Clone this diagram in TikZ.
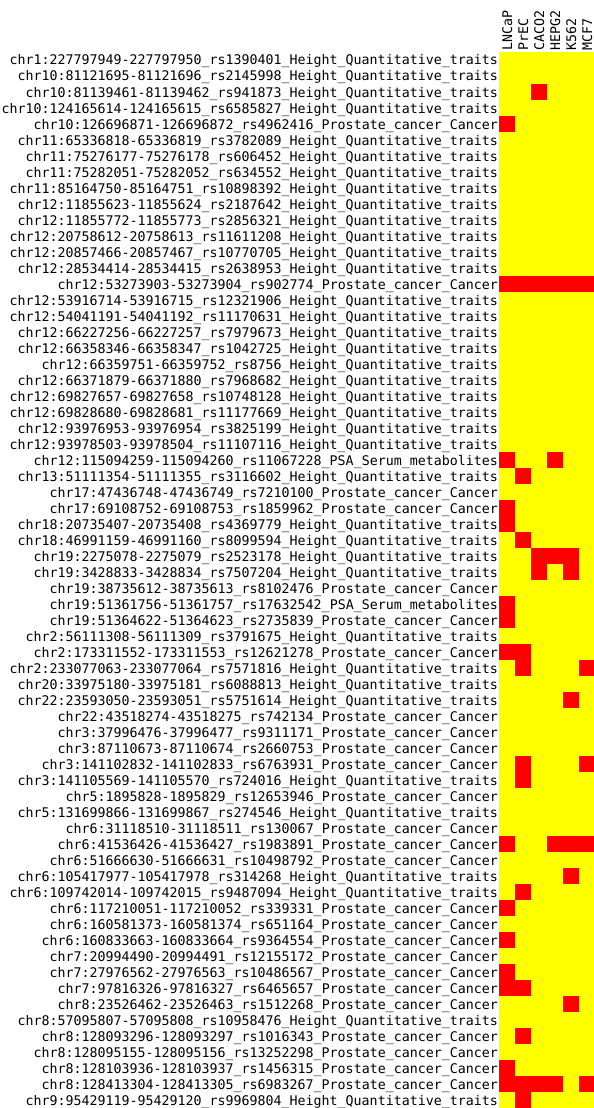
\documentclass[tikz,border=0pt]{standalone}
\usepackage{fontspec}
\setmonofont{DejaVu Sans Mono}
\definecolor{heatyellow}{RGB}{255,255,0}
\definecolor{heatred}{RGB}{255,0,0}
\begin{document}
\begin{tikzpicture}[x=1pt,y=-1pt,
  rowlab/.style={anchor=base east,inner sep=0pt,font=\ttfamily\fontsize{13.29}{16}\selectfont},
  collab/.style={anchor=base west,rotate=90,inner sep=0pt,font=\ttfamily\fontsize{13.29}{16}\selectfont},
  hitcell/.style={fill=heatred}]
\useasboundingbox (0,0) rectangle (594,1108);
\clip (0,0) rectangle (594,1108);
\fill[white] (0,0) rectangle (594,1108);
% heatmap background
\fill[heatyellow] (499,52) rectangle (595,1108);
% red cells: row/column
\foreach \r/\c in {3/3,5/1,15/1,15/2,15/3,15/4,15/5,15/6,26/1,26/4,27/2,29/1,30/1,31/2,
  32/3,32/4,32/5,33/3,33/5,35/1,36/1,38/1,38/2,39/2,39/6,41/5,45/2,45/6,46/2,
  50/1,50/4,50/5,50/6,52/5,53/2,54/1,56/1,58/1,59/1,59/2,60/5,62/2,64/1,
  65/1,65/2,65/3,65/4,65/6,66/2}
  \fill[hitcell] ({499+16*(\c-1)},{52+16*(\r-1)}) rectangle +(16,16);
% column labels
\foreach \lab [count=\c] in {LNCaP,PrEC,CACO2,HEPG2,K562,MCF7}
  \node[collab] (col\c) at ({499+16*(\c-1)+13},51) {\lab};
% row labels
\foreach \lab [count=\i] in {
chr1:227797949-227797950\_rs1390401\_Height\_Quantitative\_traits,
chr10:81121695-81121696\_rs2145998\_Height\_Quantitative\_traits,
chr10:81139461-81139462\_rs941873\_Height\_Quantitative\_traits,
chr10:124165614-124165615\_rs6585827\_Height\_Quantitative\_traits,
chr10:126696871-126696872\_rs4962416\_Prostate\_cancer\_Cancer,
chr11:65336818-65336819\_rs3782089\_Height\_Quantitative\_traits,
chr11:75276177-75276178\_rs606452\_Height\_Quantitative\_traits,
chr11:75282051-75282052\_rs634552\_Height\_Quantitative\_traits,
chr11:85164750-85164751\_rs10898392\_Height\_Quantitative\_traits,
chr12:11855623-11855624\_rs2187642\_Height\_Quantitative\_traits,
chr12:11855772-11855773\_rs2856321\_Height\_Quantitative\_traits,
chr12:20758612-20758613\_rs11611208\_Height\_Quantitative\_traits,
chr12:20857466-20857467\_rs10770705\_Height\_Quantitative\_traits,
chr12:28534414-28534415\_rs2638953\_Height\_Quantitative\_traits,
chr12:53273903-53273904\_rs902774\_Prostate\_cancer\_Cancer,
chr12:53916714-53916715\_rs12321906\_Height\_Quantitative\_traits,
chr12:54041191-54041192\_rs11170631\_Height\_Quantitative\_traits,
chr12:66227256-66227257\_rs7979673\_Height\_Quantitative\_traits,
chr12:66358346-66358347\_rs1042725\_Height\_Quantitative\_traits,
chr12:66359751-66359752\_rs8756\_Height\_Quantitative\_traits,
chr12:66371879-66371880\_rs7968682\_Height\_Quantitative\_traits,
chr12:69827657-69827658\_rs10748128\_Height\_Quantitative\_traits,
chr12:69828680-69828681\_rs11177669\_Height\_Quantitative\_traits,
chr12:93976953-93976954\_rs3825199\_Height\_Quantitative\_traits,
chr12:93978503-93978504\_rs11107116\_Height\_Quantitative\_traits,
chr12:115094259-115094260\_rs11067228\_PSA\_Serum\_metabolites,
chr13:51111354-51111355\_rs3116602\_Height\_Quantitative\_traits,
chr17:47436748-47436749\_rs7210100\_Prostate\_cancer\_Cancer,
chr17:69108752-69108753\_rs1859962\_Prostate\_cancer\_Cancer,
chr18:20735407-20735408\_rs4369779\_Height\_Quantitative\_traits,
chr18:46991159-46991160\_rs8099594\_Height\_Quantitative\_traits,
chr19:2275078-2275079\_rs2523178\_Height\_Quantitative\_traits,
chr19:3428833-3428834\_rs7507204\_Height\_Quantitative\_traits,
chr19:38735612-38735613\_rs8102476\_Prostate\_cancer\_Cancer,
chr19:51361756-51361757\_rs17632542\_PSA\_Serum\_metabolites,
chr19:51364622-51364623\_rs2735839\_Prostate\_cancer\_Cancer,
chr2:56111308-56111309\_rs3791675\_Height\_Quantitative\_traits,
chr2:173311552-173311553\_rs12621278\_Prostate\_cancer\_Cancer,
chr2:233077063-233077064\_rs7571816\_Height\_Quantitative\_traits,
chr20:33975180-33975181\_rs6088813\_Height\_Quantitative\_traits,
chr22:23593050-23593051\_rs5751614\_Height\_Quantitative\_traits,
chr22:43518274-43518275\_rs742134\_Prostate\_cancer\_Cancer,
chr3:37996476-37996477\_rs9311171\_Prostate\_cancer\_Cancer,
chr3:87110673-87110674\_rs2660753\_Prostate\_cancer\_Cancer,
chr3:141102832-141102833\_rs6763931\_Prostate\_cancer\_Cancer,
chr3:141105569-141105570\_rs724016\_Height\_Quantitative\_traits,
chr5:1895828-1895829\_rs12653946\_Prostate\_cancer\_Cancer,
chr5:131699866-131699867\_rs274546\_Height\_Quantitative\_traits,
chr6:31118510-31118511\_rs130067\_Prostate\_cancer\_Cancer,
chr6:41536426-41536427\_rs1983891\_Prostate\_cancer\_Cancer,
chr6:51666630-51666631\_rs10498792\_Prostate\_cancer\_Cancer,
chr6:105417977-105417978\_rs314268\_Height\_Quantitative\_traits,
chr6:109742014-109742015\_rs9487094\_Height\_Quantitative\_traits,
chr6:117210051-117210052\_rs339331\_Prostate\_cancer\_Cancer,
chr6:160581373-160581374\_rs651164\_Prostate\_cancer\_Cancer,
chr6:160833663-160833664\_rs9364554\_Prostate\_cancer\_Cancer,
chr7:20994490-20994491\_rs12155172\_Prostate\_cancer\_Cancer,
chr7:27976562-27976563\_rs10486567\_Prostate\_cancer\_Cancer,
chr7:97816326-97816327\_rs6465657\_Prostate\_cancer\_Cancer,
chr8:23526462-23526463\_rs1512268\_Prostate\_cancer\_Cancer,
chr8:57095807-57095808\_rs10958476\_Height\_Quantitative\_traits,
chr8:128093296-128093297\_rs1016343\_Prostate\_cancer\_Cancer,
chr8:128095155-128095156\_rs13252298\_Prostate\_cancer\_Cancer,
chr8:128103936-128103937\_rs1456315\_Prostate\_cancer\_Cancer,
chr8:128413304-128413305\_rs6983267\_Prostate\_cancer\_Cancer,
chr9:95429119-95429120\_rs9969804\_Height\_Quantitative\_traits}
  \node[rowlab] (row\i) at (498,{52+16*(\i-1)+13}) {\lab};
\end{tikzpicture}
\end{document}
